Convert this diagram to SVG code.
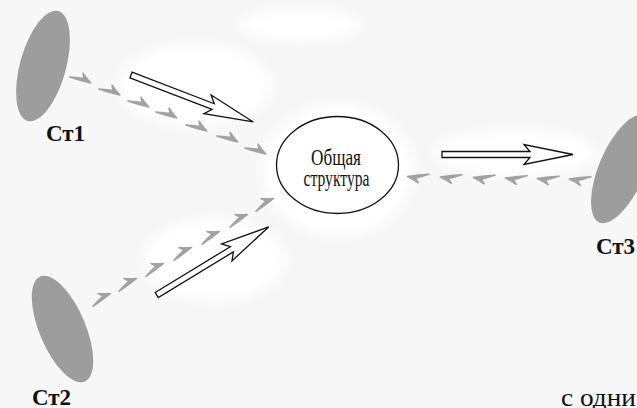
<svg xmlns="http://www.w3.org/2000/svg" width="637" height="408" viewBox="0 0 637 408">
  <style>
    .blob { fill: #9d9d9d; }
    .label { font-family: "Liberation Serif", "Times New Roman", serif; font-weight: bold; font-size: 23px; fill: #111; }
    .inner { font-family: "Liberation Serif", "Times New Roman", serif; font-size: 24px; fill: #111; }
    .caption { font-family: "Liberation Serif", "Times New Roman", serif; font-size: 25px; fill: #111; }
    .hollow { fill: #fff; stroke: #111; stroke-width: 1.3; stroke-linejoin: miter; }
    .chev { fill: #a2a2a2; stroke: #a2a2a2; stroke-width: 1.3; stroke-linejoin: round; }
    .patch { fill: #ffffff; }
  </style>
  <defs>
    <polygon id="hollow-arrow" points="0,-3 88,-3 82,-10 131,0 82,10 88,3 0,3"/>
    <path id="chev" d="M-10,2.2 Q-1,1.8 8,0.3 Q3,-2 -1,-4.8 L1.5,-1 Q-3,0 -10,2.2 Z" transform="scale(1.2)"/>
    <filter id="soft" x="-20%" y="-20%" width="140%" height="140%">
      <feGaussianBlur stdDeviation="6"/>
    </filter>
  </defs>

  <rect width="637" height="408" fill="#f7f7f7"/>
  <g id="background-patches" filter="url(#soft)">
    <ellipse class="patch" cx="195" cy="85" rx="75" ry="40"/>
    <ellipse class="patch" cx="338" cy="170" rx="75" ry="65"/>
    <ellipse class="patch" cx="215" cy="260" rx="70" ry="40"/>
    <ellipse class="patch" cx="515" cy="153" rx="80" ry="22"/>
    <ellipse class="patch" cx="300" cy="25" rx="60" ry="15"/>
  </g>

  <g id="node-st1">
    <ellipse class="blob" cx="43" cy="66" rx="23" ry="57" transform="rotate(15.5 43 66)"/>
    <text class="label" x="46" y="141">Ст1</text>
  </g>

  <g id="node-st2">
    <ellipse class="blob" cx="62.5" cy="329" rx="23" ry="57" transform="rotate(-23 62.5 329)"/>
    <text class="label" x="32" y="405">Ст2</text>
  </g>

  <g id="node-st3">
    <ellipse class="blob" cx="622" cy="169" rx="23" ry="58" transform="rotate(23 622 169)"/>
    <text class="label" x="596" y="254">Ст3</text>
  </g>

  <g id="node-common">
    <ellipse cx="337.5" cy="165" rx="61" ry="48.5" fill="#fff" stroke="#111" stroke-width="1.3"/>
    <text class="inner" x="336" y="165" text-anchor="middle" textLength="50" lengthAdjust="spacingAndGlyphs">Общая</text>
    <text class="inner" x="336.5" y="186" text-anchor="middle" textLength="66" lengthAdjust="spacingAndGlyphs">структура</text>
  </g>

  <g id="connectors">
    <g id="flow-st1">
      <use href="#chev" class="chev" transform="translate(82 79) rotate(22)"/>
      <use href="#chev" class="chev" transform="translate(111 91) rotate(22)"/>
      <use href="#chev" class="chev" transform="translate(140 103) rotate(22)"/>
      <use href="#chev" class="chev" transform="translate(168 114) rotate(22)"/>
      <use href="#chev" class="chev" transform="translate(198 127) rotate(22)"/>
      <use href="#chev" class="chev" transform="translate(229 138) rotate(22)"/>
      <use href="#chev" class="chev" transform="translate(257 150) rotate(22)"/>
    </g>
    <g id="flow-st2">
      <use href="#chev" class="chev" transform="translate(102 298) rotate(-30)"/>
      <use href="#chev" class="chev" transform="translate(128 283) rotate(-30)"/>
      <use href="#chev" class="chev" transform="translate(155 268) rotate(-30)"/>
      <use href="#chev" class="chev" transform="translate(183 252) rotate(-30)"/>
      <use href="#chev" class="chev" transform="translate(211 236) rotate(-30)"/>
      <use href="#chev" class="chev" transform="translate(239 219) rotate(-30)"/>
      <use href="#chev" class="chev" transform="translate(265 203) rotate(-30)"/>
    </g>
    <g id="flow-st3">
      <use href="#chev" class="chev" transform="translate(417 177) rotate(180)"/>
      <use href="#chev" class="chev" transform="translate(450 177.5) rotate(180)"/>
      <use href="#chev" class="chev" transform="translate(483 178) rotate(180)"/>
      <use href="#chev" class="chev" transform="translate(515 178.5) rotate(180)"/>
      <use href="#chev" class="chev" transform="translate(547 179) rotate(180)"/>
      <use href="#chev" class="chev" transform="translate(579 179.5) rotate(180)"/>
    </g>
    <use href="#hollow-arrow" class="hollow" transform="translate(131 75) rotate(21)"/>
    <use href="#hollow-arrow" class="hollow" transform="translate(156.7 295) rotate(-31.3)"/>
    <use href="#hollow-arrow" class="hollow" transform="translate(442 154.5)"/>
  </g>

  <text class="caption" x="561" y="406" textLength="75" lengthAdjust="spacingAndGlyphs">с одни</text>
</svg>
